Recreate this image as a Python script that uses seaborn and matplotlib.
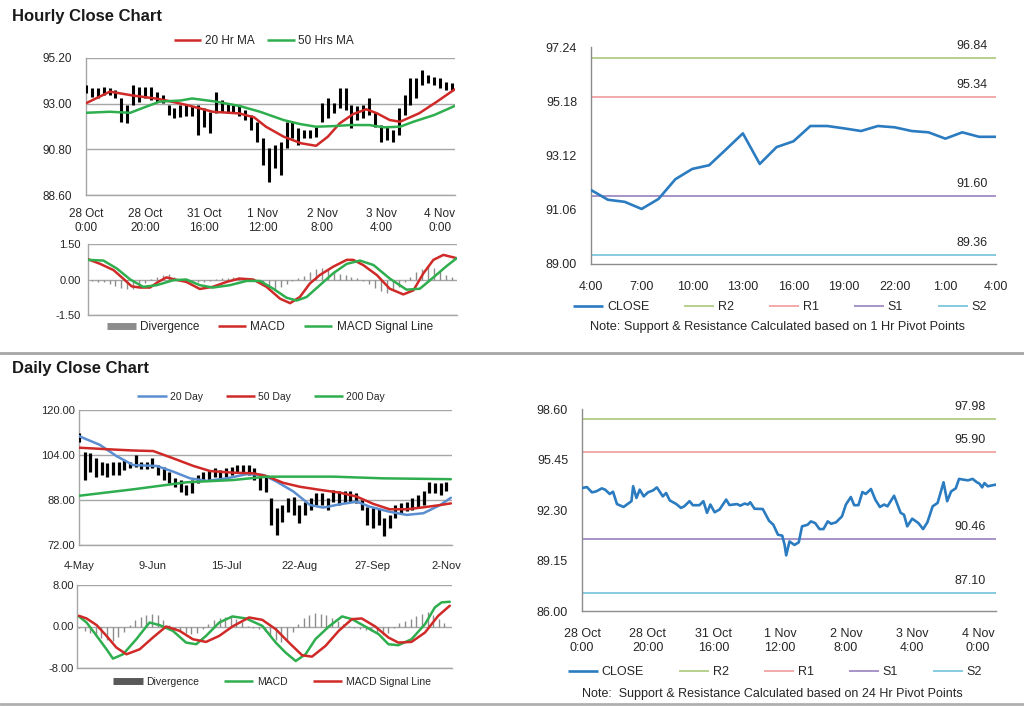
import matplotlib
matplotlib.use("Agg")
import matplotlib.pyplot as plt
from matplotlib.lines import Line2D
import seaborn as sns

# ---------------- DATA ----------------
# Hourly OHLC-style bars (every 2nd hour shown), 28 Oct 0:00 -> 4 Nov
hourly_bar_idx = list(range(0, 125, 2))
hourly_high = [93.90, 93.74, 93.75, 93.82, 93.74, 93.66, 93.26, 92.94, 93.90, 93.82,
               93.82, 93.82, 93.58, 93.42, 92.94, 92.79, 92.94, 93.00, 92.90, 92.94,
               92.79, 92.60, 93.58, 93.18, 93.03, 92.94, 92.90, 92.70, 92.45, 92.12,
               91.35, 90.86, 91.01, 91.15, 92.12, 92.12, 91.83, 91.73, 91.73, 91.88,
               93.03, 93.27, 93.03, 93.75, 93.75, 92.94, 92.90, 92.94, 93.27, 92.60,
               91.97, 91.87, 91.73, 92.79, 93.42, 94.24, 94.24, 94.62, 94.38, 94.30,
               94.24, 94.05, 94.00]
hourly_low = [93.50, 93.34, 93.25, 93.42, 93.42, 93.26, 92.13, 92.07, 92.94, 93.10,
              93.26, 93.18, 93.10, 93.03, 92.45, 92.31, 92.37, 92.40, 92.40, 91.49,
              91.88, 91.59, 92.55, 92.60, 92.55, 92.55, 92.40, 92.21, 91.73, 91.15,
              90.04, 89.22, 89.90, 89.56, 90.86, 91.35, 91.01, 91.35, 91.35, 91.39,
              92.12, 92.31, 92.55, 92.79, 92.70, 91.83, 92.21, 92.31, 92.45, 91.88,
              91.15, 91.25, 91.15, 91.49, 92.45, 92.94, 93.27, 93.90, 94.00, 93.90,
              93.75, 93.66, 93.66]
ma20h_idx = [0, 8.1, 16, 24, 27.3, 34, 43, 52, 57, 61, 67, 73, 78, 82, 86, 90.6, 95,
             98.6, 103, 106.5, 113, 119, 125]
ma20h = [93.02, 93.58, 93.39, 93.24, 93.15, 92.94, 92.61, 92.53, 92.34, 91.89, 91.41,
         91.09, 90.97, 91.41, 92.05, 92.50, 92.73, 92.54, 92.21, 92.13, 92.54, 93.10, 93.69]
ma50h_idx = [0, 8, 15, 19, 25, 32, 36, 44, 52, 59, 67, 72.5, 78, 84, 89.5, 96, 101,
             106.5, 111, 118, 125]
ma50h = [92.56, 92.61, 92.56, 92.78, 93.10, 93.15, 93.25, 93.10, 92.89, 92.61, 92.21,
         92.02, 91.89, 91.92, 91.97, 91.97, 91.86, 91.89, 92.13, 92.45, 92.89]
hourly_ticks = [0, 20, 40, 60, 80, 100, 120]
hourly_ticklabels = ["28 Oct\n0:00", "28 Oct\n20:00", "31 Oct\n16:00", "1 Nov\n12:00",
                     "2 Nov\n8:00", "3 Nov\n4:00", "4 Nov\n0:00"]

# Hourly MACD
macdh_idx = [0.6, 4.8, 9.3, 12.6, 15.5, 18.3, 21.7, 24.5, 27.3, 30.1, 34, 38.6, 43, 47.7,
             52, 56.7, 61.2, 65.8, 69.2, 72.5, 75.9, 79.3, 83.8, 88.4, 90.6, 94, 98.6,
             103, 107.6, 111, 114.4, 117.8, 121.2, 125.7]
macdh = [0.86, 0.66, 0.40, 0.04, -0.29, -0.34, -0.34, -0.10, 0.09, 0.0, -0.10, -0.40,
         -0.31, -0.10, 0.04, 0.0, -0.31, -0.81, -1.00, -0.74, -0.17, 0.19, 0.54, 0.83,
         0.83, 0.61, 0.19, -0.39, -0.63, -0.46, 0.26, 0.83, 1.04, 0.90]
sigh_idx = [0.6, 5.9, 10.4, 15, 19.4, 24, 29.6, 34, 38.6, 43, 48.8, 54.5, 59, 63.5, 68,
            71.4, 74.8, 79.3, 83.8, 88.4, 92.9, 97.5, 103, 108.7, 113.2, 117.8, 122.3, 125.7]
sigh = [0.83, 0.80, 0.47, 0.0, -0.31, -0.24, -0.03, 0.0, -0.24, -0.34, -0.24, -0.06,
        -0.06, -0.39, -0.77, -0.89, -0.74, -0.24, 0.26, 0.66, 0.80, 0.61, 0.04, -0.43,
        -0.39, 0.09, 0.57, 0.90]
divh = [-0.05, -0.08, -0.10, -0.12, -0.20, -0.28, -0.35, -0.42, -0.40, -0.30,
        -0.15, 0.02, 0.12, 0.20, 0.22, 0.12, 0.03, -0.05, -0.10, -0.12,
        -0.10, -0.05, 0.02, 0.06, 0.08, 0.10, 0.10, 0.06, 0.02, -0.12,
        -0.25, -0.35, -0.40, -0.30, -0.20, -0.08, 0.05, 0.15, 0.30, 0.45,
        0.50, 0.45, 0.35, 0.25, 0.18, 0.12, 0.05, -0.05, -0.20, -0.35,
        -0.50, -0.55, -0.45, -0.30, -0.10, 0.10, 0.30, 0.45, 0.55, 0.50,
        0.35, 0.20, 0.10]

# 1 Hr pivot chart
pivot1_hours = list(range(25))
pivot1_close = [91.81, 91.44, 91.36, 91.09, 91.47, 92.22, 92.61, 92.75, 93.35, 93.96,
                92.80, 93.44, 93.66, 94.24, 94.24, 94.15, 94.05, 94.24, 94.19, 94.05,
                94.00, 93.76, 94.00, 93.83, 93.83]
pivot1_ticks = [0, 3, 6, 9, 12, 15, 18, 21, 24]
pivot1_ticklabels = ["4:00", "7:00", "10:00", "13:00", "16:00", "19:00", "22:00", "1:00", "4:00"]
pivot1_levels = [96.84, 95.34, 91.60, 89.36]
pivot1_yticks = [89.00, 91.06, 93.12, 95.18, 97.24]
level_names = ["R2", "R1", "S1", "S2"]

# Daily bars (every 2nd session), 4 May -> 2 Nov
daily_bar_idx = list(range(0, 131, 2))
daily_high = [111.8, 105.1, 104.7, 102.9, 101.5, 101.0, 101.5, 101.5, 102.2, 101.5,
              104.0, 101.5, 101.5, 102.9, 100.4, 99.7, 98.0, 95.8, 95.1, 93.3,
              95.1, 96.9, 98.0, 98.7, 99.4, 98.7, 99.4, 99.7, 100.4, 100.4,
              100.4, 99.4, 96.2, 96.9, 88.7, 85.2, 86.2, 88.7, 89.1, 86.2,
              87.3, 88.7, 90.5, 90.5, 88.7, 91.5, 91.2, 91.2, 91.2, 90.5,
              88.0, 85.5, 85.2, 84.7, 81.6, 82.7, 86.2, 87.0, 87.3, 88.7,
              89.8, 91.2, 94.4, 94.0, 94.0, 94.4]
daily_low = [108.6, 95.1, 98.0, 96.2, 96.9, 96.2, 96.9, 96.9, 98.7, 99.4,
             99.7, 99.0, 99.0, 99.4, 96.9, 95.1, 94.0, 92.6, 90.8, 89.8,
             90.5, 94.0, 95.1, 95.1, 96.2, 95.5, 96.2, 96.9, 97.6, 97.6,
             96.9, 95.1, 91.5, 90.8, 79.1, 75.6, 80.2, 83.7, 82.7, 79.8,
             82.7, 84.4, 86.2, 86.2, 84.4, 87.3, 86.2, 87.0, 87.3, 87.0,
             84.4, 79.1, 78.0, 79.1, 75.2, 78.0, 81.6, 83.4, 84.0, 84.4,
             85.5, 86.2, 90.5, 90.5, 89.8, 91.2]
ma20d_idx = [0, 7.4, 13.3, 19.2, 27.5, 33.3, 39.3, 45.2, 52.3, 59.4, 65.2, 70, 75.9,
             81.8, 86.4, 92.4, 98.3, 103, 110, 116, 121.9, 127.8, 131.6]
ma20d = [110.7, 107.6, 103.6, 100.4, 100.1, 98.1, 95.7, 94.8, 95.7, 97.2, 96.9, 94.5,
         91.0, 86.2, 85.3, 86.5, 87.4, 85.6, 83.8, 82.7, 83.3, 86.2, 88.8]
ma50d_idx = [0, 11, 19.2, 26.3, 33.4, 40.5, 46.4, 54.6, 61.7, 66.4, 72.3, 78.2, 85.3,
             92.4, 98.3, 104.2, 110, 116, 121.9, 127.8, 131.6]
ma50d = [106.6, 106.0, 105.6, 105.4, 102.8, 100.1, 98.3, 97.7, 97.5, 96.5, 94.1, 92.7,
         91.6, 90.6, 89.2, 86.6, 84.7, 84.7, 85.4, 86.2, 86.8]
ma200d_idx = [0, 19.2, 38.1, 54.6, 66.4, 90, 107.7, 131.6]
ma200d = [89.5, 91.8, 94.3, 95.1, 96.3, 96.3, 95.7, 95.4]
daily_ticks = [0, 26, 52, 78, 104, 130]
daily_ticklabels = ["4-May", "9-Jun", "15-Jul", "22-Aug", "27-Sep", "2-Nov"]

# Daily MACD
macdd_idx = [0, 2.7, 6.3, 9.8, 12.1, 15.7, 20.4, 25.1, 28.7, 33.4, 38.1, 41.7, 45.2,
             49.9, 54.6, 59.4, 65.2, 70, 73.5, 77.1, 80.6, 84.1, 88.9, 93.6, 97.1,
             101.8, 106.6, 110.1, 113.6, 118.3, 123.1, 126.6, 129, 131.9]
macdd = [1.94, 0.77, -1.81, -4.39, -6.19, -5.35, -2.45, 0.77, 0.26, -0.84, -3.10,
         -3.42, -1.81, 0.77, 1.94, 1.55, 0.13, -3.10, -5.03, -6.65, -5.35, -2.45, 0.0,
         1.94, 1.42, 0.0, -1.48, -3.42, -3.61, -2.45, 0.45, 3.68, 4.65, 4.77]
sigd_idx = [0, 2.7, 6.3, 9.8, 13.3, 16.9, 21.6, 26.3, 31, 35.8, 40.5, 45.2, 49.9, 54.6,
            60.5, 65.2, 70, 74.7, 79.4, 82.9, 87.7, 92.4, 97.1, 100.6, 105.4, 110.1,
            113.6, 118.3, 123.1, 127.8, 131.9]
sigd = [2.06, 1.55, 0.26, -1.81, -4.06, -5.35, -4.39, -2.13, 0.0, -0.84, -2.45, -2.97,
        -1.81, 0.0, 1.74, 1.29, -0.52, -3.10, -5.55, -5.81, -3.74, -0.84, 1.42, 1.55,
        0.0, -2.13, -3.10, -2.97, -1.16, 2.06, 4.00]
divd = [-0.3, -0.8, -1.3, -1.8, -2.2, -2.6, -2.8, -2.0, -1.0, 0.3,
        1.2, 1.9, 2.3, 2.4, 2.2, 1.2, 0.3, -0.4, -0.9, -1.3,
        -1.5, -1.2, -0.5, 0.5, 1.2, 1.6, 1.8, 1.8, 1.5, 0.8,
        0.1, -0.3, -0.4, -0.9, -1.8, -2.6, -3.0, -2.6, -1.0, 0.5,
        1.6, 2.3, 2.6, 2.5, 2.2, 1.6, 1.0, 0.4, 0.1, -0.3,
        -0.5, -0.6, -0.9, -1.3, -1.6, -1.2, -0.3, 0.6, 1.0, 1.5,
        2.0, 2.5, 2.7, 2.2, 1.5, 0.6]

# 24 Hr pivot chart (hourly closes)
pivot24_idx = [0, 1.5, 3, 4.3, 6, 7, 8.4, 9.4, 10.6, 12.6, 14, 15, 15.5, 16.5, 17.5, 18.7,
               20, 21.5, 22.7, 24.5, 25.5, 26.6, 28.6, 30, 31, 32.6, 33.6, 35.6, 36.8,
               37.9, 38.9, 40.2, 41.7, 43.7, 44.7, 47, 48, 49.3, 50.3, 51, 52.3, 54.8,
               56.7, 58, 59.4, 60.7, 61.4, 61.9, 62.9, 64.4, 65.7, 66.7, 68.4, 69.4, 70.7,
               72, 73.2, 74.5, 75.5, 77, 78.8, 80, 81.5, 82.5, 83.8, 85, 86, 87.6, 88.9,
               90.3, 91.6, 92.6, 94.6, 96.6, 97.6, 98.6, 100.1, 102, 103.4, 104.7, 106.3,
               107.8, 109.6, 110.7, 111.9, 113.3, 114.3, 115.7, 117, 118.4, 119.7, 120.5,
               121.3, 122, 123, 124.4, 125.4]
pivot24_close = [93.67, 93.73, 93.40, 93.46, 93.65, 93.57, 93.30, 93.44, 92.67, 92.49,
                 92.70, 92.85, 93.78, 93.05, 93.57, 93.15, 93.40, 93.52, 93.71, 93.15,
                 93.36, 92.90, 92.67, 92.43, 92.53, 92.85, 92.60, 92.60, 92.85, 92.12,
                 92.64, 92.16, 92.33, 92.95, 92.61, 92.67, 92.57, 92.70, 92.64, 92.78,
                 92.38, 92.36, 91.63, 91.38, 90.76, 90.70, 90.14, 89.47, 90.34, 90.12,
                 90.28, 91.28, 91.38, 91.59, 91.48, 91.11, 91.11, 91.59, 91.44, 91.53,
                 91.90, 92.64, 93.11, 92.60, 92.60, 93.42, 93.30, 93.61, 92.95, 92.49,
                 92.64, 92.53, 93.19, 92.12, 92.01, 91.28, 91.76, 91.48, 91.11, 91.53,
                 92.53, 92.74, 94.03, 92.85, 93.46, 93.65, 94.24, 94.19, 94.15, 94.24,
                 94.03, 93.94, 93.71, 93.98, 93.78, 93.84, 93.88]
pivot24_levels = [97.98, 95.90, 90.46, 87.10]
pivot24_yticks = [86.00, 89.15, 92.30, 95.45, 98.60]

# ---------------- STYLE ----------------
sns.set_theme(style="white")
plt.rcParams['font.family'] = ['Liberation Sans', 'DejaVu Sans']

TXT = "#262626"
GRID = "#A6A6A6"
SPINE = "#8C8C8C"
RED = "#CF2A27"
GREEN = "#2EAE4E"
BLUE_MA = "#5B8ED0"
CLOSE_C = "#2A7BC0"
DIV_C = "#8C8C8C"
LEVEL_COLORS = ["#B6D18B", "#F2AAAA", "#A694C8", "#86CBE0"]

W, H = 1024, 706
fig = plt.figure(figsize=(W / 100, H / 100), dpi=100)
fig.patch.set_facecolor("white")


def add_ax(l, t, r, b):
    return fig.add_axes([l / W, 1 - b / H, (r - l) / W, (b - t) / H])


def fx(px):
    return px / W


def fy(py):
    return 1 - py / H


def style_left(ax, yticks, fmt, fs, pad):
    ax.set_yticks(yticks)
    ax.set_yticklabels([fmt.format(v) for v in yticks], fontsize=fs, color=TXT)
    for s in ["top", "right"]:
        ax.spines[s].set_visible(False)
    for s in ["left", "bottom"]:
        ax.spines[s].set_color(GRID)
        ax.spines[s].set_linewidth(1.0)
    ax.yaxis.grid(True, color=GRID, lw=1.0)
    ax.set_axisbelow(True)
    ax.tick_params(axis="y", length=0, pad=pad)
    ax.set_xlabel("")
    ax.set_ylabel("")
    ax.set_facecolor("white")


def style_right(ax):
    for s in ["top", "right"]:
        ax.spines[s].set_visible(False)
    for s in ["left", "bottom"]:
        ax.spines[s].set_color(SPINE)
        ax.spines[s].set_linewidth(1.0)
    ax.grid(False)
    ax.tick_params(axis="both", direction="out", length=4, width=1, color=SPINE,
                   labelsize=9, labelcolor=TXT)
    ax.tick_params(axis="y", pad=6)
    ax.tick_params(axis="x", pad=8)
    ax.set_xlabel("")
    ax.set_ylabel("")
    ax.set_facecolor("white")


def kill_legend(ax):
    leg = ax.get_legend()
    if leg is not None:
        leg.remove()


def h(color, lw):
    return Line2D([], [], color=color, lw=lw, solid_capstyle="butt")


# ---------------- Titles & separators ----------------
fig.text(fx(12), fy(16), "Hourly Close Chart", fontsize=12, fontweight="bold",
         va="center", ha="left", color="#1A1A1A")
fig.text(fx(12), fy(368), "Daily Close Chart", fontsize=12, fontweight="bold",
         va="center", ha="left", color="#1A1A1A")
fig.add_artist(Line2D([0, 1], [fy(353), fy(353)], color="#A6A6A6", lw=2,
                      transform=fig.transFigure))
fig.add_artist(Line2D([0, 1], [fy(704), fy(704)], color="#B0B0B0", lw=2,
                      transform=fig.transFigure))

# ---------------- Hourly main ----------------
ax1 = add_ax(86, 58, 455, 195)
ax1.vlines(hourly_bar_idx, hourly_low, hourly_high, color="black", lw=2.2, zorder=3)
sns.lineplot(x=ma20h_idx, y=ma20h, ax=ax1, color=RED, lw=1.8, zorder=4)
sns.lineplot(x=ma50h_idx, y=ma50h, ax=ax1, color=GREEN, lw=1.8, zorder=4)
ax1.set_xlim(0, 125.1)
ax1.set_ylim(88.6, 95.2)
style_left(ax1, [88.6, 90.8, 93.0, 95.2], "{:.2f}", 8.5, 10)
ax1.set_xticks(hourly_ticks)
ax1.set_xticklabels(hourly_ticklabels, fontsize=8.5, color=TXT, linespacing=1.25)
ax1.tick_params(axis="x", direction="inout", length=5, width=1, color=GRID, pad=7)
kill_legend(ax1)
fig.legend([h(RED, 1.8), h(GREEN, 1.8)],
           ["20 Hr MA", "50 Hrs MA"], loc="center", bbox_to_anchor=(fx(264), fy(41)),
           ncol=2, frameon=False, fontsize=8.5, handlelength=2.3, handletextpad=0.3,
           columnspacing=1.1)

# ---------------- Hourly MACD ----------------
ax2 = add_ax(88, 244, 457, 315)
ax2.vlines(hourly_bar_idx, 0, divh, color=DIV_C, lw=1.0, zorder=2)
sns.lineplot(x=macdh_idx, y=macdh, ax=ax2, color=RED, lw=1.8, zorder=4)
sns.lineplot(x=sigh_idx, y=sigh, ax=ax2, color=GREEN, lw=1.8, zorder=4)
ax2.set_xlim(0.68, 125.8)
ax2.set_ylim(-1.5, 1.5)
style_left(ax2, [-1.5, 0.0, 1.5], "{:.2f}", 8, 5)
ax2.set_xticks([])
kill_legend(ax2)
fig.legend([h(DIV_C, 5), h(RED, 1.8), h(GREEN, 1.8)],
           ["Divergence", "MACD", "MACD Signal Line"], loc="center",
           bbox_to_anchor=(fx(270), fy(327)), ncol=3, frameon=False, fontsize=8.5,
           handlelength=2.4, handletextpad=0.35, columnspacing=1.6)

# ---------------- 1 Hr pivot ----------------
ax3 = add_ax(591, 47, 996, 264)
for v, c in zip(pivot1_levels, LEVEL_COLORS):
    ax3.axhline(v, color=c, lw=1.4, zorder=2)
    ax3.annotate(f"{v:.2f}", xy=(0.941, v), xycoords=ax3.get_yaxis_transform(),
                 xytext=(0, 12), textcoords="offset pixels", ha="center", va="center",
                 fontsize=9, color=TXT)
sns.lineplot(x=pivot1_hours, y=pivot1_close, ax=ax3, color=CLOSE_C, lw=1.9, zorder=4)
ax3.set_xlim(0, 24)
ax3.set_ylim(89.0, 97.24)
ax3.set_yticks(pivot1_yticks)
ax3.set_yticklabels([f"{v:.2f}" for v in pivot1_yticks])
ax3.set_xticks(pivot1_ticks)
ax3.set_xticklabels(pivot1_ticklabels)
style_right(ax3)
kill_legend(ax3)
fig.legend([h(CLOSE_C, 1.9)] + [h(c, 1.4) for c in LEVEL_COLORS],
           ["CLOSE"] + level_names, loc="center", bbox_to_anchor=(fx(780), fy(307)),
           ncol=5, frameon=False, fontsize=9, handlelength=2.4, handletextpad=0.3,
           columnspacing=2.8)
fig.text(fx(777), fy(327), "Note: Support & Resistance Calculated based on 1 Hr Pivot Points",
         ha="center", va="center", fontsize=9.2, color=TXT)

# ---------------- Daily main ----------------
ax4 = add_ax(79, 410, 452, 545)
ax4.vlines(daily_bar_idx, daily_low, daily_high, color="black", lw=2.3, zorder=3)
sns.lineplot(x=ma20d_idx, y=ma20d, ax=ax4, color=BLUE_MA, lw=1.8, zorder=4)
sns.lineplot(x=ma50d_idx, y=ma50d, ax=ax4, color=RED, lw=1.8, zorder=4)
sns.lineplot(x=ma200d_idx, y=ma200d, ax=ax4, color=GREEN, lw=1.8, zorder=4)
ax4.set_xlim(0, 132)
ax4.set_ylim(72, 120)
style_left(ax4, [72, 88, 104, 120], "{:.2f}", 8, 3)
ax4.set_xticks(daily_ticks)
ax4.set_xticklabels(daily_ticklabels, fontsize=8, color=TXT)
ax4.tick_params(axis="x", direction="inout", length=5, width=1, color=GRID, pad=9)
kill_legend(ax4)
fig.legend([h(BLUE_MA, 1.8), h(RED, 1.8), h(GREEN, 1.8)],
           ["20 Day", "50 Day", "200 Day"], loc="center", bbox_to_anchor=(fx(261), fy(397)),
           ncol=3, frameon=False, fontsize=7.5, handlelength=2.8, handletextpad=0.3,
           columnspacing=2.2)

# ---------------- Daily MACD ----------------
ax5 = add_ax(77, 585, 452, 668)
ax5.vlines(daily_bar_idx, 0, divd, color=DIV_C, lw=1.0, zorder=2)
sns.lineplot(x=macdd_idx, y=macdd, ax=ax5, color=GREEN, lw=1.8, zorder=4)
sns.lineplot(x=sigd_idx, y=sigd, ax=ax5, color=RED, lw=1.8, zorder=4)
ax5.set_xlim(-0.7, 132.7)
ax5.set_ylim(-8, 8)
style_left(ax5, [-8, 0, 8], "{:.2f}", 8, 2)
ax5.set_xticks([])
kill_legend(ax5)
fig.legend([h("#595959", 5), h(GREEN, 1.8), h(RED, 1.8)],
           ["Divergence", "MACD", "MACD Signal Line"], loc="center",
           bbox_to_anchor=(fx(272), fy(682)), ncol=3, frameon=False, fontsize=7.5,
           handlelength=2.8, handletextpad=0.35, columnspacing=2.4)

# ---------------- 24 Hr pivot ----------------
ax6 = add_ax(582, 409, 996, 611)
for v, c in zip(pivot24_levels, LEVEL_COLORS):
    ax6.axhline(v, color=c, lw=1.4, zorder=2)
    ax6.annotate(f"{v:.2f}", xy=(0.937, v), xycoords=ax6.get_yaxis_transform(),
                 xytext=(0, 12), textcoords="offset pixels", ha="center", va="center",
                 fontsize=9, color=TXT)
sns.lineplot(x=pivot24_idx, y=pivot24_close, ax=ax6, color=CLOSE_C, lw=1.9, zorder=4)
ax6.set_xlim(0, 125.5)
ax6.set_ylim(86.0, 98.6)
ax6.set_yticks(pivot24_yticks)
ax6.set_yticklabels([f"{v:.2f}" for v in pivot24_yticks])
ax6.set_xticks(hourly_ticks)
ax6.set_xticklabels(hourly_ticklabels, linespacing=1.25)
style_right(ax6)
kill_legend(ax6)
fig.legend([h(CLOSE_C, 1.9)] + [h(c, 1.4) for c in LEVEL_COLORS],
           ["CLOSE"] + level_names, loc="center", bbox_to_anchor=(fx(775), fy(672)),
           ncol=5, frameon=False, fontsize=9, handlelength=2.4, handletextpad=0.3,
           columnspacing=2.8)
fig.text(fx(772), fy(694), "Note:  Support & Resistance Calculated based on 24 Hr Pivot Points",
         ha="center", va="center", fontsize=9.0, color=TXT)

fig.savefig("out.png", dpi=100, facecolor="white")
